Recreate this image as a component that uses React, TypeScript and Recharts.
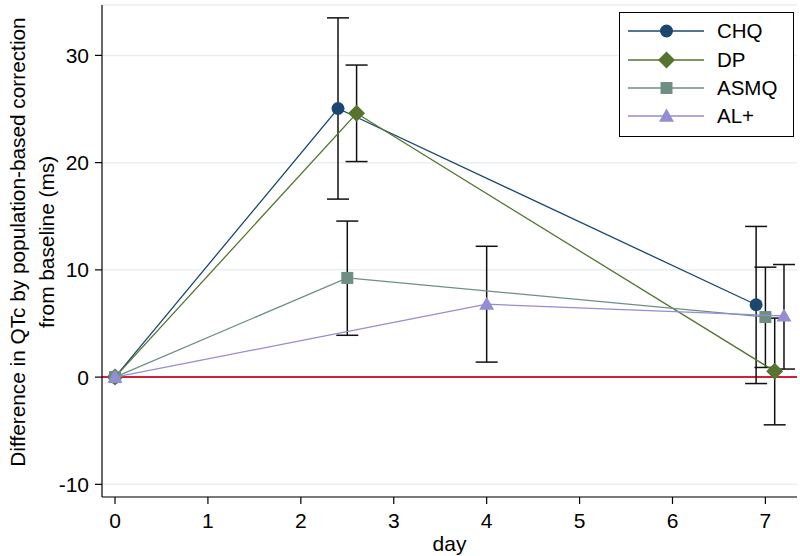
import React from 'react';
import {
  ComposedChart, Scatter, XAxis, YAxis, CartesianGrid, ReferenceLine, ErrorBar, Legend,
} from 'recharts';

const FONT = '"Liberation Sans", Arial, Helvetica, sans-serif';

// Series data (day, mean difference, lower CI, upper CI)
const chqDay = [0, 2.4, 6.9];
const chqMean = [0, 25.05, 6.75];
const chqLo = [null, 16.6, -0.6];
const chqHi = [null, 33.5, 14.05];

const dpDay = [0, 2.6, 7.1];
const dpMean = [0, 24.6, 0.55];
const dpLo = [null, 20.1, -4.45];
const dpHi = [null, 29.1, 5.5];

const asmqDay = [0, 2.5, 7.0];
const asmqMean = [0, 9.25, 5.6];
const asmqLo = [null, 3.9, 0.9];
const asmqHi = [null, 14.55, 10.25];

const alDay = [0, 4.0, 7.2];
const alMean = [0, 6.8, 5.7];
const alLo = [null, 1.4, 0.75];
const alHi = [null, 12.2, 10.5];

const xTicks = [0, 1, 2, 3, 4, 5, 6, 7];
const yTicks = [-10, 0, 10, 20, 30];

const seriesNames = ['CHQ', 'DP', 'ASMQ', 'AL+'];
const seriesColors = ['#1a476f', '#55752f', '#6e8e84', '#938dd2'];
const seriesShapes = ['circle', 'diamond', 'square', 'triangle'];

function build(days: number[], mean: number[], lo: (number | null)[], hi: (number | null)[]) {
  return days.map((d, i) => ({
    x: d,
    y: mean[i],
    err: lo[i] == null || hi[i] == null ? null : [mean[i] - (lo[i] as number), (hi[i] as number) - mean[i]],
  }));
}

const seriesData = [
  build(chqDay, chqMean, chqLo, chqHi),
  build(dpDay, dpMean, dpLo, dpHi),
  build(asmqDay, asmqMean, asmqLo, asmqHi),
  build(alDay, alMean, alLo, alHi),
];

function Marker({ kind, cx, cy, color }: { kind: string; cx: number; cy: number; color: string }) {
  if (kind === 'circle') return <circle cx={cx} cy={cy} r={6.5} fill={color} />;
  if (kind === 'diamond') {
    const r = 8.5;
    return <polygon points={`${cx},${cy - r} ${cx + r},${cy} ${cx},${cy + r} ${cx - r},${cy}`} fill={color} />;
  }
  if (kind === 'square') {
    const h = 6;
    return <rect x={cx - h} y={cy - h} width={2 * h} height={2 * h} fill={color} />;
  }
  const s = 7.5;
  return (
    <polygon
      points={`${cx},${cy - s} ${cx + s * 1.0},${cy + s * 0.75} ${cx - s * 1.0},${cy + s * 0.75}`}
      fill={color}
    />
  );
}

function makeShape(kind: string, color: string) {
  return (props: any) => {
    const { cx, cy } = props;
    if (cx == null || cy == null) return <g />;
    return <Marker kind={kind} cx={cx} cy={cy} color={color} />;
  };
}

function XTick(props: any) {
  const { x, y, payload } = props;
  return (
    <text x={x} y={y} dy="0.71em" textAnchor="middle" fontSize={21} fontFamily={FONT} fill="#000">
      {payload.value}
    </text>
  );
}

function YTick(props: any) {
  const { x, y, payload } = props;
  return (
    <text x={x} y={y} dy="0.36em" textAnchor="end" fontSize={21} fontFamily={FONT} fill="#000">
      {payload.value}
    </text>
  );
}

function LegendBox() {
  const rowY = [19, 48, 76, 104];
  return (
    <svg width={176} height={126} style={{ display: 'block' }}>
      <rect x={0.5} y={0.5} width={174} height={124} fill="#fff" stroke="#000" strokeWidth={1} />
      {seriesNames.map((n, i) => (
        <g key={n}>
          <line x1={9} x2={85} y1={rowY[i]} y2={rowY[i]} stroke={seriesColors[i]} strokeWidth={1.3} />
          <Marker kind={seriesShapes[i]} cx={47.5} cy={rowY[i]} color={seriesColors[i]} />
          <text x={98} y={rowY[i]} dy="0.36em" fontSize={20.5} fontFamily={FONT} fill="#000">{n}</text>
        </g>
      ))}
    </svg>
  );
}

function YTitle() {
  return (
    <g>
      <text
        x={18}
        y={242}
        transform="rotate(-90 18 242)"
        textAnchor="middle"
        dy="0.36em"
        fontSize={20.8}
        fontFamily={FONT}
        fill="#000"
      >
        Difference in QTc by population-based correction
      </text>
      <text
        x={47}
        y={242}
        transform="rotate(-90 47 242)"
        textAnchor="middle"
        dy="0.36em"
        fontSize={20.8}
        fontFamily={FONT}
        fill="#000"
      >
        from baseline (ms)
      </text>
    </g>
  );
}

export default function App() {
  return (
    <div style={{ position: 'absolute', left: 0, top: 0, width: 800, height: 556, background: '#fff' }}>
      <ComposedChart
        width={800}
        height={556}
        margin={{ top: 5, right: 3, left: 0, bottom: 0 }}
        style={{ fontFamily: FONT }}
      >
        <CartesianGrid vertical={false} stroke="#e8f0f2" strokeWidth={1.5} />
        <XAxis
          type="number"
          dataKey="x"
          domain={[-0.14, 7.34]}
          ticks={xTicks}
          allowDataOverflow
          height={59}
          tickSize={7}
          tickMargin={9}
          axisLine={{ stroke: '#000', strokeWidth: 1.2 }}
          tickLine={{ stroke: '#000', strokeWidth: 1.2 }}
          tick={<XTick />}
          label={{ value: 'day', position: 'insideBottom', offset: 5, fill: '#000', fontSize: 21, fontFamily: FONT }}
        />
        <YAxis
          type="number"
          dataKey="y"
          domain={[-11.18, 34.7]}
          ticks={yTicks}
          allowDataOverflow
          width={102}
          tickSize={7}
          tickMargin={6}
          axisLine={{ stroke: '#000', strokeWidth: 1.2 }}
          tickLine={{ stroke: '#000', strokeWidth: 1.2 }}
          tick={<YTick />}
          label={{ content: () => <YTitle /> }}
        />
        <ReferenceLine y={0} stroke="#d0203a" strokeWidth={2} />
        {seriesData.map((data, i) => (
          <Scatter
            key={seriesNames[i]}
            name={seriesNames[i]}
            data={data}
            fill={seriesColors[i]}
            line={{ stroke: seriesColors[i], strokeWidth: 1.3 }}
            lineType="joint"
            shape={makeShape(seriesShapes[i], seriesColors[i])}
            isAnimationActive={false}
          >
            <ErrorBar dataKey="err" direction="y" width={11} stroke="#111" strokeWidth={1.5} isAnimationActive={false} />
          </Scatter>
        ))}
        <Legend
          layout="horizontal"
          verticalAlign="middle"
          align="center"
          wrapperStyle={{ position: 'absolute', left: 619, top: 12, width: 176, height: 126, margin: 0, padding: 0 }}
          content={() => <LegendBox />}
        />
      </ComposedChart>
    </div>
  );
}
